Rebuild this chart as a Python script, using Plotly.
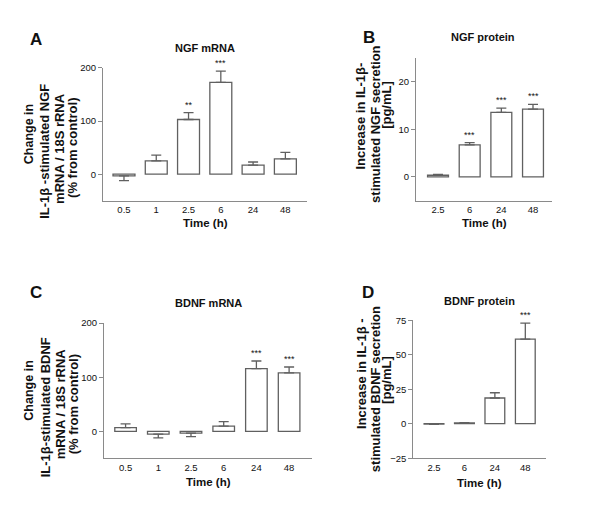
import plotly.graph_objects as go

# ---------------- data ----------------
time_mrna = ["0.5", "1", "2.5", "6", "24", "48"]
time_prot = ["2.5", "6", "24", "48"]

ngf_mrna_mean = [-3, 25, 103, 173, 17, 29]
ngf_mrna_err = [9, 11, 13, 21, 6, 12]
ngf_mrna_sig = ["", "", "**", "***", "", ""]

ngf_prot_mean = [0.35, 6.7, 13.5, 14.2]
ngf_prot_err = [0.2, 0.5, 0.9, 1.0]
ngf_prot_sig = ["", "***", "***", "***"]

bdnf_mrna_mean = [7, -5, -3, 9.7, 116, 108]
bdnf_mrna_err = [7, 7, 6.5, 8.5, 14, 11]
bdnf_mrna_sig = ["", "", "", "", "***", "***"]

bdnf_prot_mean = [-0.3, 0.5, 18.6, 61.3]
bdnf_prot_err = [0.2, 0.2, 3.8, 11.6]
bdnf_prot_sig = ["", "", "", "***"]

W, H = 600, 518
FONT = "Arial, Liberation Sans, sans-serif"
BAR_LINE = "#606060"
AXIS_LINE = "#8a8a8a"
TXT = "#111111"


def px(x):
    return x / W


def py(y):
    return 1 - y / H


fig = go.Figure()

panels = [
    ("1", time_mrna, ngf_mrna_mean, ngf_mrna_err, ngf_mrna_sig,
     (103, 307), (63.3, 199), [-50, 200], [-0.65, 5.67], [0, 100, 200], 0.68),
    ("2", time_prot, ngf_prot_mean, ngf_prot_err, ngf_prot_sig,
     (416, 552), (52.7, 199), [-5, 25], [-0.695, 3.6], [0, 10, 20], 0.66),
    ("3", time_mrna, bdnf_mrna_mean, bdnf_mrna_err, bdnf_mrna_sig,
     (104, 312), (324, 462.3), [-50, 200], [-0.66, 5.7], [0, 100, 200], 0.66),
    ("4", time_prot, bdnf_prot_mean, bdnf_prot_err, bdnf_prot_sig,
     (413.3, 545.7), (321, 462), [-25, 75], [-0.68, 3.67], [-25, 0, 25, 50, 75], 0.65),
]

annotations = []

for name, cats, mean, err, sig, xd, yd, yr, xr, yt, bw in panels:
    xa = "x" if name == "1" else "x" + name
    ya = "y" if name == "1" else "y" + name
    plus = [e if m >= 0 else 0 for m, e in zip(mean, err)]
    minus = [0 if m >= 0 else e for m, e in zip(mean, err)]
    fig.add_trace(go.Bar(
        x=cats, y=mean, xaxis=xa, yaxis=ya, width=bw,
        marker=dict(color="white", line=dict(color=BAR_LINE, width=1.3)),
        error_y=dict(type="data", symmetric=False, array=plus, arrayminus=minus,
                     color=BAR_LINE, thickness=1.3, width=5),
        showlegend=False, hoverinfo="skip",
    ))
    xkey = "xaxis" if name == "1" else "xaxis" + name
    ykey = "yaxis" if name == "1" else "yaxis" + name
    fig.update_layout(**{
        xkey: dict(domain=[px(xd[0]), px(xd[1])], anchor=ya, type="category",
                   range=xr, showline=True, linecolor=AXIS_LINE, linewidth=1.2,
                   showgrid=False, zeroline=False, ticks="", ticklen=4,
                   tickfont=dict(family=FONT, size=9.5, color=TXT), fixedrange=True),
        ykey: dict(domain=[py(yd[1]), py(yd[0])], anchor=xa, range=yr,
                   tickvals=yt, showline=True, linecolor=AXIS_LINE, linewidth=1.2,
                   showgrid=False, zeroline=False, ticks="outside", ticklen=4,
                   tickcolor=AXIS_LINE, tickwidth=1,
                   tickfont=dict(family=FONT, size=9.5, color=TXT), fixedrange=True),
    })
    for i, (m, e, s) in enumerate(zip(mean, err, sig)):
        if s:
            annotations.append(dict(x=i, y=m + e, xref=xa, yref=ya, text=s,
                                    showarrow=False, yanchor="bottom", yshift=1,
                                    font=dict(family=FONT, size=9, color=TXT)))


def text_ann(x, y, t, size, angle=0, bold=True):
    annotations.append(dict(
        x=px(x), y=py(y), xref="paper", yref="paper",
        text=("<b>%s</b>" % t) if bold else t, showarrow=False,
        xanchor="center", yanchor="middle", textangle=angle,
        font=dict(family=FONT, size=size, color=TXT)))


# panel letters
text_ann(36, 34, "A", 17)
text_ann(369, 32, "B", 17)
text_ann(36, 293, "C", 17)
text_ann(368, 293, "D", 17)

# titles
text_ann(205, 43, "NGF mRNA", 11)
text_ann(483, 32, "NGF protein", 11)
text_ann(208, 303, "BDNF mRNA", 11)
text_ann(479, 301, "BDNF protein", 11)

# x axis titles
text_ann(205, 222, "Time (h)", 11.5)
text_ann(484, 222, "Time (h)", 11.5)
text_ann(208, 486, "Time (h)", 11.5)
text_ann(479, 487, "Time (h)", 11.5)

RS = 13  # rotated text size
# y axis titles (rotated, line by line)
text_ann(29, 131, "Change in", 12.5, -90)
text_ann(45, 149, "IL-1β -stimulated NGF", RS, -90)
text_ann(60, 146, "mRNA / 18S rRNA", RS, -90)
text_ann(73, 145, "(% from control)", RS, -90)

text_ann(29, 393, "Change in", 12.5, -90)
text_ann(45, 410, "IL-1β-stimulated BDNF", RS, -90)
text_ann(60, 407, "mRNA / 18S rRNA", RS, -90)
text_ann(73, 407, "(% from control)", RS, -90)

text_ann(361, 113, "Increase in IL-1β-", RS, -90)
text_ann(375.5, 121, "stimulated NGF secretion", RS, -90)
text_ann(387, 101, "[pg/mL]", RS, -90)

text_ann(361, 376, "Increase in IL-1β -", RS, -90)
text_ann(375.5, 392, "stimulated BDNF secretion", RS, -90)
text_ann(387, 382, "[pg/mL]", RS, -90)

fig.update_layout(
    width=W, height=H, margin=dict(l=0, r=0, t=0, b=0),
    paper_bgcolor="white", plot_bgcolor="white",
    annotations=annotations, bargap=0.3,
)

fig.write_html("out.html", config={"displayModeBar": False},
               post_script="document.body.style.margin='0';")
